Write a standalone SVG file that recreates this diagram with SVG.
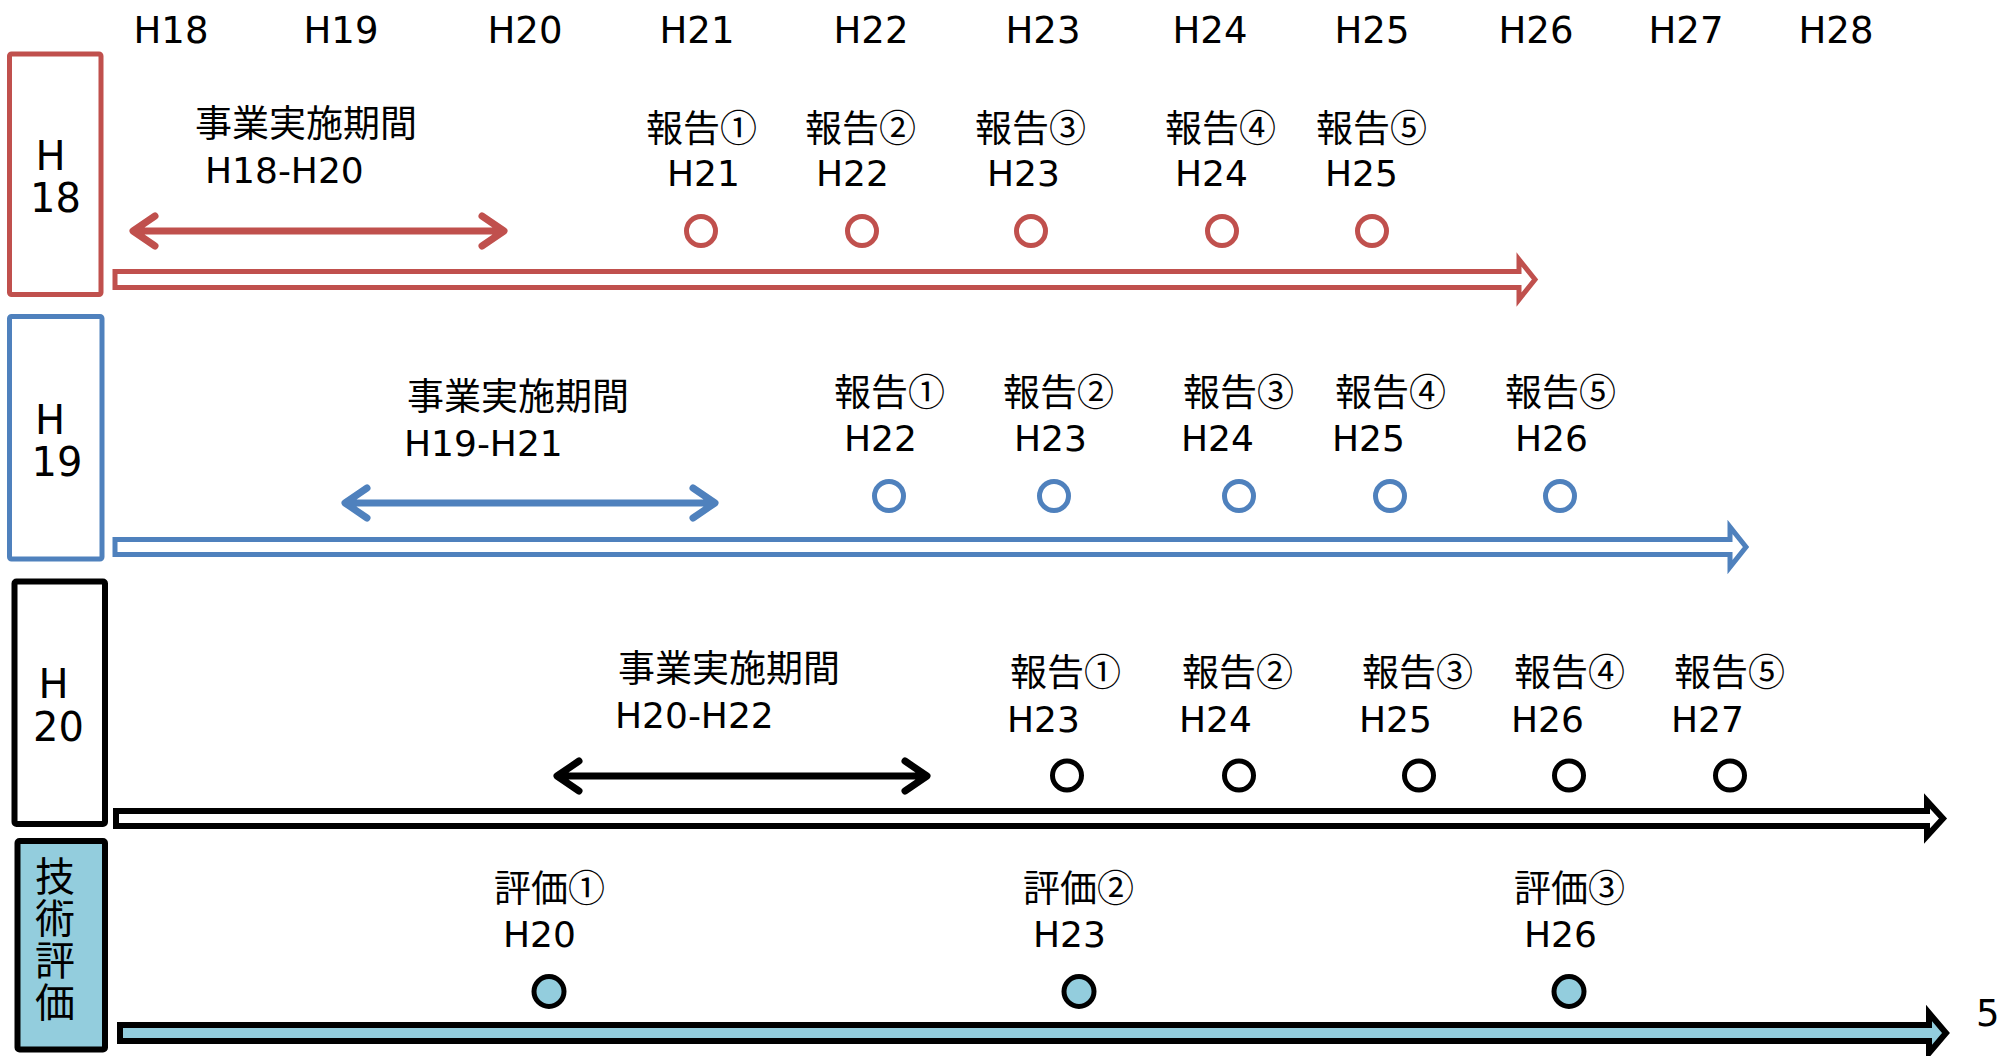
<svg xmlns="http://www.w3.org/2000/svg" width="1999" height="1056" viewBox="0 0 1999 1056">
<style>
.hd{font-family:"DejaVu Sans","Noto Sans CJK JP",sans-serif;font-size:37px;fill:#000;text-anchor:middle}
.lt{font-family:"DejaVu Sans","Noto Sans CJK JP",sans-serif;font-size:36px;fill:#000}
.jp{font-family:"Noto Sans CJK JP",sans-serif;font-size:37px;fill:#000}
.bx{font-family:"DejaVu Sans","Noto Sans CJK JP",sans-serif;font-size:40px;fill:#000;text-anchor:middle}
.vt{font-family:"Noto Sans CJK JP",sans-serif;font-size:40px;fill:#000;writing-mode:vertical-rl;letter-spacing:2px}
.red{stroke:#C0504D}
.blue{stroke:#4F81BD}
.blk{stroke:#000}
.box{fill:#fff;stroke-width:5}
.ring{fill:none;stroke-width:5}
.dbl{fill:none;stroke-width:7;stroke-linecap:round;stroke-linejoin:round}
.blockarrow{fill:#fff;stroke-width:5;stroke-linejoin:miter}
</style>
<rect width="1999" height="1056" fill="#fff"/>
<g id="header">
<text class="hd" x="171" y="43">H18</text>
<text class="hd" x="341" y="43">H19</text>
<text class="hd" x="525" y="43">H20</text>
<text class="hd" x="697" y="43">H21</text>
<text class="hd" x="871" y="43">H22</text>
<text class="hd" x="1043" y="43">H23</text>
<text class="hd" x="1210" y="43">H24</text>
<text class="hd" x="1372" y="43">H25</text>
<text class="hd" x="1536" y="43">H26</text>
<text class="hd" x="1686" y="43">H27</text>
<text class="hd" x="1836" y="43">H28</text>
</g>
<g id="connectors">
<path class="blockarrow red" d="M115,271.5 L1519,271.5 L1519,259.5 L1535,279.5 L1519,299.5 L1519,287.5 L115,287.5 Z"/>
<path class="blockarrow blue" d="M115,539.5 L1730,539.5 L1730,527 L1746,547 L1730,567 L1730,554.5 L115,554.5 Z"/>
<path class="blockarrow blk" style="stroke-width:6" d="M116,811 L1927,811 L1927,801 L1943,818.5 L1927,836 L1927,826 L116,826 Z"/>
<path class="blockarrow blk" style="stroke-width:6;fill:#93CDDD" d="M120,1025 L1929,1025 L1929,1013 L1946,1033 L1929,1053 L1929,1041 L120,1041 Z"/>
<path class="dbl red" d="M134,231 L503,231 M155,216 L133,231 L155,246 M482,216 L504,231 L482,246"/>
<path class="dbl blue" d="M346,503 L714,503 M367,488 L345,503 L367,518 M693,488 L715,503 L693,518"/>
<path class="dbl blk" d="M558,776 L926,776 M579,761 L557,776 L579,791 M905,761 L927,776 L905,791"/>
</g>
<g id="row-h18">
<rect class="box red" x="9.5" y="54" width="91.5" height="240.5" rx="2"/>
<text class="bx" x="50.5" y="170">H</text>
<text class="bx" x="55.5" y="212">18</text>
<text class="jp" x="195" y="137">事業実施期間</text>
<text class="lt" x="205" y="183">H18-H20</text>
<g class="ring red">
<circle cx="701" cy="231" r="14.5"/>
<circle cx="862" cy="231" r="14.5"/>
<circle cx="1031" cy="231" r="14.5"/>
<circle cx="1222" cy="231" r="14.5"/>
<circle cx="1372" cy="231" r="14.5"/>
</g>
<text class="jp" x="646" y="142">報告①</text><text class="lt" x="667" y="186">H21</text>
<text class="jp" x="805" y="142">報告②</text><text class="lt" x="816" y="186">H22</text>
<text class="jp" x="975" y="142">報告③</text><text class="lt" x="987" y="186">H23</text>
<text class="jp" x="1165" y="142">報告④</text><text class="lt" x="1175" y="186">H24</text>
<text class="jp" x="1316" y="142">報告⑤</text><text class="lt" x="1325" y="186">H25</text>
</g>
<g id="row-h19">
<rect class="box blue" x="9.5" y="316.5" width="92.5" height="242.5" rx="2"/>
<text class="bx" x="50" y="434">H</text>
<text class="bx" x="57" y="476">19</text>
<text class="jp" x="407" y="410">事業実施期間</text>
<text class="lt" x="404" y="456">H19-H21</text>
<g class="ring blue">
<circle cx="889" cy="496" r="14.5"/>
<circle cx="1054" cy="496" r="14.5"/>
<circle cx="1239" cy="496" r="14.5"/>
<circle cx="1390" cy="496" r="14.5"/>
<circle cx="1560" cy="496" r="14.5"/>
</g>
<text class="jp" x="834" y="406">報告①</text><text class="lt" x="844" y="451">H22</text>
<text class="jp" x="1003" y="406">報告②</text><text class="lt" x="1014" y="451">H23</text>
<text class="jp" x="1183" y="406">報告③</text><text class="lt" x="1181" y="451">H24</text>
<text class="jp" x="1335" y="406">報告④</text><text class="lt" x="1332" y="451">H25</text>
<text class="jp" x="1505" y="406">報告⑤</text><text class="lt" x="1515" y="451">H26</text>
</g>
<g id="row-h20">
<rect class="box blk" style="stroke-width:6" x="14.5" y="581.5" width="90.5" height="242.5" rx="2"/>
<text class="bx" x="53.5" y="698">H</text>
<text class="bx" x="58.5" y="741">20</text>
<text class="jp" x="618" y="682">事業実施期間</text>
<text class="lt" x="615" y="728">H20-H22</text>
<g class="ring blk">
<circle cx="1067" cy="775.5" r="14.5"/>
<circle cx="1239" cy="775.5" r="14.5"/>
<circle cx="1419" cy="775.5" r="14.5"/>
<circle cx="1569" cy="775.5" r="14.5"/>
<circle cx="1730" cy="775.5" r="14.5"/>
</g>
<text class="jp" x="1010" y="686">報告①</text><text class="lt" x="1007" y="732">H23</text>
<text class="jp" x="1182" y="686">報告②</text><text class="lt" x="1179" y="732">H24</text>
<text class="jp" x="1362" y="686">報告③</text><text class="lt" x="1359" y="732">H25</text>
<text class="jp" x="1514" y="686">報告④</text><text class="lt" x="1511" y="732">H26</text>
<text class="jp" x="1674" y="686">報告⑤</text><text class="lt" x="1671" y="732">H27</text>
</g>
<g id="row-eval">
<rect class="box blk" style="stroke-width:6;fill:#93CDDD" x="17.5" y="841" width="87.5" height="208.5" rx="2"/>
<text class="vt" x="55" y="856">技術評価</text>
<g class="ring blk" style="fill:#93CDDD">
<circle cx="549" cy="991.5" r="15"/>
<circle cx="1079" cy="991.5" r="15"/>
<circle cx="1569" cy="991.5" r="15"/>
</g>
<text class="jp" x="494" y="902">評価①</text><text class="lt" x="503" y="947">H20</text>
<text class="jp" x="1023" y="902">評価②</text><text class="lt" x="1033" y="947">H23</text>
<text class="jp" x="1514" y="902">評価③</text><text class="lt" x="1524" y="947">H26</text>
</g>
<g id="page-number">
<text class="lt" style="font-size:37px" x="1976" y="1026">5</text>
</g>
</svg>
